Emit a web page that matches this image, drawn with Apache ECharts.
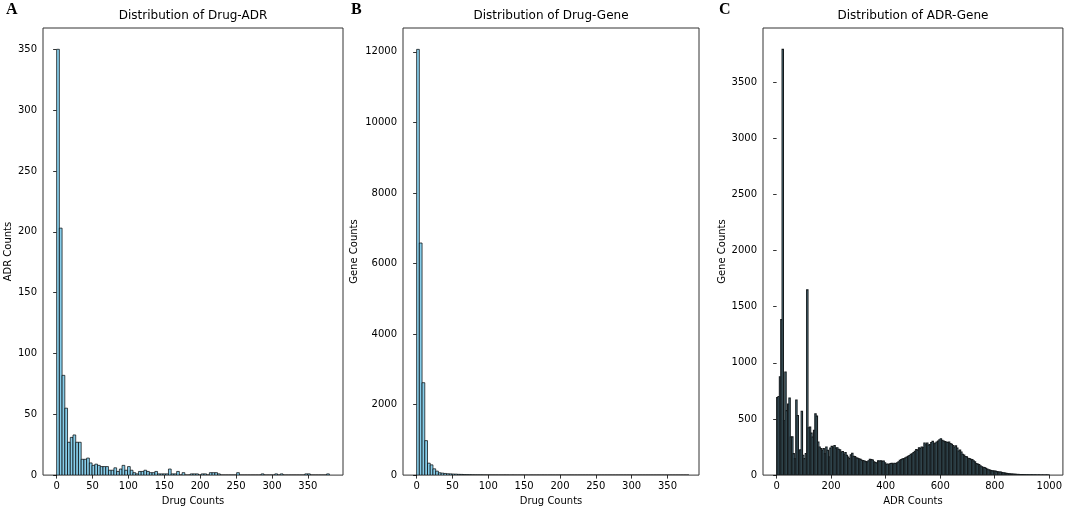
<!DOCTYPE html>
<html>
<head>
<meta charset="utf-8">
<title>Distributions</title>
<script src="https://cdn.jsdelivr.net/npm/echarts@6/dist/echarts.min.js"></script>
<style>
  html, body { margin: 0; padding: 0; background: #fff; }
  #main { width: 1065px; height: 511px; }
</style>
</head>
<body>
<div id="main"></div>
<script>
// histogram counts (100 bins of ~3.8 for A/B, 200 bins of 5 for C)
var drugAdrCounts = [
  350, 203, 82, 55, 27, 31, 33, 27, 27, 13,
  13, 14, 10, 8, 9, 8, 7, 7, 7, 4,
  4, 6, 3, 5, 8, 4, 7, 4, 2, 1,
  3, 3, 4, 3, 2, 2, 3, 1, 1, 1,
  1, 5, 1, 1, 3, 0, 2, 0, 0, 1,
  1, 1, 0, 1, 1, 0, 2, 2, 2, 1,
  0, 0, 0, 0, 0, 0, 2, 0, 0, 0,
  0, 0, 0, 0, 0, 1, 0, 0, 0, 0,
  1, 0, 1, 0, 0, 0, 0, 0, 0, 0,
  0, 1, 1, 0, 0, 0, 0, 0, 0, 1
];
var drugGeneCounts = [
  12070, 6580, 2620, 977, 338, 290, 178, 113, 66, 56,
  47, 38, 35, 30, 28, 22, 20, 15, 13, 11,
  8, 7, 6, 6, 5, 4, 4, 3, 3, 3,
  2, 2, 3, 2, 1, 2, 1, 1, 1, 1,
  1, 0, 1, 0, 1, 0, 1, 0, 0, 1,
  0, 0, 1, 0, 0, 0, 1, 0, 0, 0,
  0, 0, 0, 0, 0, 0, 0, 0, 0, 0,
  0, 0, 0, 0, 0, 0, 0, 0, 0, 0,
  0, 0, 0, 0, 0, 0, 0, 0, 0, 0,
  0, 0, 0, 0, 0, 0, 0, 0, 0, 0
];
var adrGeneCounts = [
  690, 700, 875, 1384, 3790, 486, 918, 574, 633, 686,
  339, 340, 191, 147, 668, 530, 221, 226, 568, 177,
  147, 191, 1649, 421, 427, 374, 339, 398, 545, 525,
  294, 250, 236, 221, 236, 191, 250, 221, 162, 240,
  256, 250, 262, 240, 244, 230, 225, 206, 210, 186,
  200, 177, 160, 147, 180, 195, 168, 165, 153, 150,
  145, 140, 132, 130, 126, 120, 118, 128, 141, 138,
  135, 118, 112, 108, 127, 125, 127, 122, 126, 110,
  97, 99, 95, 103, 104, 100, 106, 103, 110, 118,
  132, 138, 144, 148, 153, 160, 168, 175, 186, 190,
  200, 212, 227, 222, 244, 238, 250, 246, 286, 270,
  286, 268, 271, 290, 300, 280, 286, 295, 303, 315,
  324, 310, 303, 298, 294, 290, 294, 280, 274, 262,
  250, 260, 240, 215, 222, 205, 186, 178, 165, 162,
  150, 147, 140, 138, 127, 118, 103, 98, 94, 82,
  74, 70, 68, 60, 53, 48, 44, 40, 38, 36,
  35, 31, 29, 27, 27, 22, 21, 18, 15, 14,
  12, 11, 9, 9, 8, 7, 6, 6, 5, 5,
  5, 4, 4, 3, 3, 3, 2, 3, 2, 2,
  2, 1, 2, 1, 1, 1, 1, 1, 1, 1
];

var drugTicks = [0, 50, 100, 150, 200, 250, 300, 350];
var adrTicks = [0, 200, 400, 600, 800, 1000];
var adrCountTicks = [0, 50, 100, 150, 200, 250, 300, 350];
var geneTicksB = [0, 2000, 4000, 6000, 8000, 10000, 12000];
var geneTicksC = [0, 500, 1000, 1500, 2000, 2500, 3000, 3500];

var drugBinWidth = 3.8;
var adrBinWidth = 5;

function toBins(counts, width) {
  return counts.map(function (c, i) {
    return [i * width, (i + 1) * width, c];
  });
}

var font = 'DejaVu Sans';

// bar drawer, edge settings differ for the dense panel
function makeBars(edgeColor, edgeWidth) {
  return function (params, api) {
    var top = api.coord([api.value(0), api.value(2)]);
    var bottom = api.coord([api.value(1), 0]);
    return {
      type: 'rect',
      shape: { x: top[0], y: top[1], width: bottom[0] - top[0], height: bottom[1] - top[1] },
      style: { fill: '#87CEEB', stroke: edgeColor, lineWidth: edgeWidth }
    };
  };
}

function plain(v) { return String(v); }

function xAxis(idx, min, max, ticks, name) {
  return {
    type: 'value', gridIndex: idx, min: min, max: max,
    axisLine: { show: false },
    splitLine: { show: false },
    axisTick: { show: true, length: 3.5, customValues: ticks, lineStyle: { color: '#000', width: 0.8 } },
    axisLabel: { customValues: ticks, formatter: plain, margin: 6, fontSize: 10, color: '#000', fontFamily: font },
    name: name, nameLocation: 'middle', nameGap: 19,
    nameTextStyle: { fontSize: 10, color: '#000', fontFamily: font }
  };
}

function yAxis(idx, max, ticks, name, gap) {
  return {
    type: 'value', gridIndex: idx, min: 0, max: max,
    axisLine: { show: false },
    splitLine: { show: false },
    axisTick: { show: true, length: 3.5, customValues: ticks, lineStyle: { color: '#000', width: 0.8 } },
    axisLabel: { customValues: ticks, formatter: plain, margin: 6, fontSize: 10, color: '#000', fontFamily: font },
    name: name, nameLocation: 'middle', nameGap: gap, nameRotate: 90,
    nameTextStyle: { fontSize: 10, color: '#000', fontFamily: font }
  };
}

function gridBox(left, width) {
  return { left: left, top: 28, width: width, height: 450, show: true, borderColor: '#333', borderWidth: 1 };
}

function panelTitle(text, center) {
  return {
    text: text, left: center, top: 10, textAlign: 'center', padding: 0,
    textStyle: { fontSize: 12, fontWeight: 'normal', color: '#000', fontFamily: font }
  };
}

function panelLetter(text, x) {
  return {
    type: 'text', left: x, top: 2,
    style: { text: text, font: 'bold 16px "Liberation Serif"', fill: '#000' }
  };
}

var myChart = echarts.init(document.getElementById('main'), null, { renderer: 'canvas' });

var option = {
  animation: false,
  backgroundColor: '#fff',
  title: [
    panelTitle('Distribution of Drug-ADR', 193),
    panelTitle('Distribution of Drug-Gene', 551),
    panelTitle('Distribution of ADR-Gene', 913)
  ],
  graphic: [
    panelLetter('A', 6),
    panelLetter('B', 351),
    panelLetter('C', 719)
  ],
  grid: [gridBox(43, 300), gridBox(403, 296), gridBox(763, 300)],
  xAxis: [
    xAxis(0, -19, 399, drugTicks, 'Drug Counts'),
    xAxis(1, -19, 394, drugTicks, 'Drug Counts'),
    xAxis(2, -50, 1050, adrTicks, 'ADR Counts')
  ],
  yAxis: [
    yAxis(0, 367.5, adrCountTicks, 'ADR Counts', 30),
    yAxis(1, 12676, geneTicksB, 'Gene Counts', 44),
    yAxis(2, 3980, geneTicksC, 'Gene Counts', 36)
  ],
  series: [
    { type: 'custom', xAxisIndex: 0, yAxisIndex: 0, renderItem: makeBars('#000', 0.7), encode: { x: [0, 1], y: 2 }, clip: true, silent: true, data: toBins(drugAdrCounts, drugBinWidth) },
    { type: 'custom', xAxisIndex: 1, yAxisIndex: 1, renderItem: makeBars('#000', 0.7), encode: { x: [0, 1], y: 2 }, clip: true, silent: true, data: toBins(drugGeneCounts, drugBinWidth) },
    { type: 'custom', xAxisIndex: 2, yAxisIndex: 2, renderItem: makeBars('#151a1c', 1.1), encode: { x: [0, 1], y: 2 }, clip: true, silent: true, data: toBins(adrGeneCounts, adrBinWidth) }
  ]
};

myChart.setOption(option);
</script>
</body>
</html>
